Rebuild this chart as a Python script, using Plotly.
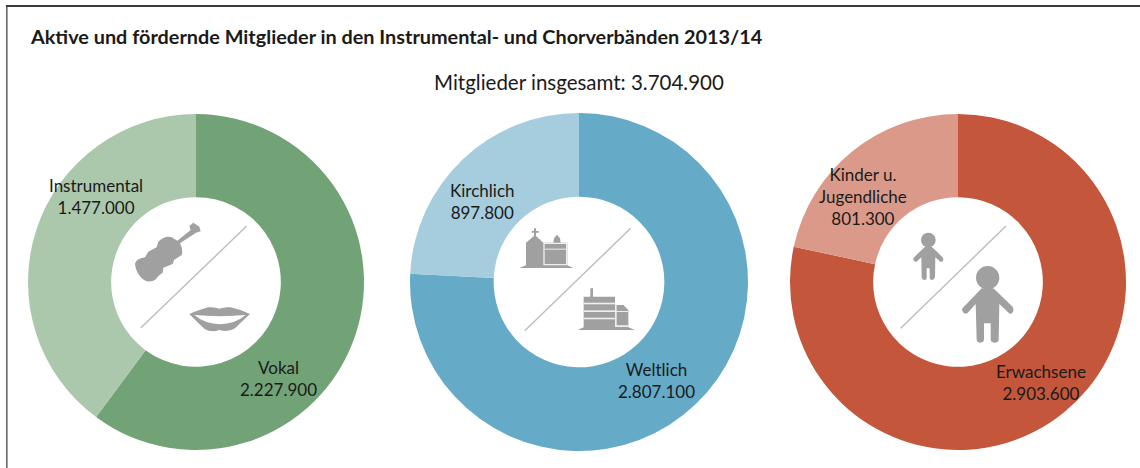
import re
import plotly.graph_objects as go

W, H = 1140, 468
title_text = "Aktive und fördernde Mitglieder in den Instrumental- und Chorverbänden 2013/14"
subtitle_text = "Mitglieder insgesamt: 3.704.900"

labels_a = ["Vokal", "Instrumental"]
values_a = [2227900, 1477000]
labels_b = ["Weltlich", "Kirchlich"]
values_b = [2807100, 897800]
labels_c = ["Erwachsene", "Kinder u.<br>Jugendliche"]
values_c = [2903600, 801300]

colors_a = ["#72A376", "#ABC8AC"]
colors_b = ["#65ABC8", "#A5CDDE"]
colors_c = ["#C3563B", "#DB9A89"]

FONT = "Lato, sans-serif"
TXT = "#1a1a1a"
ICON = "#A0A0A0"


def fmt(v):
    return f"{v:,}".replace(",", ".")


def px_domain(cx, cy, r):
    return dict(x=[(cx - r) / W, (cx + r) / W], y=[1 - (cy + r) / H, 1 - (cy - r) / H])


fig = go.Figure()
for labs, vals, cols, (cx, cy, r) in [
    (labels_a, values_a, colors_a, (196, 282, 168)),
    (labels_b, values_b, colors_b, (579, 282, 169)),
    (labels_c, values_c, colors_c, (958, 282, 168)),
]:
    fig.add_trace(go.Pie(
        labels=labs, values=vals, hole=0.505, sort=False, direction="clockwise", rotation=0,
        marker=dict(colors=cols, line=dict(width=0)), textinfo="none", showlegend=False,
        domain=px_domain(cx, cy, r), hoverinfo="label+value",
    ))

shapes = []


def zpath(d, ox, oy, fill=ICON):
    """Icon outline in zoom-crop units (3x) placed at crop origin (ox, oy), converted to paper."""
    def rep(m):
        x = ox + float(m.group(1)) / 3
        y = oy + float(m.group(2)) / 3
        return f"{x / W:.5f},{1 - y / H:.5f}"
    p = re.sub(r"(-?[\d.]+),(-?[\d.]+)", rep, d)
    shapes.append(dict(type="path", path=p, xref="paper", yref="paper", fillcolor=fill,
                       line=dict(width=0), layer="above"))


def circle(cx, cy, r, ox, oy, fill=ICON):
    shapes.append(dict(type="circle", xref="paper", yref="paper", fillcolor=fill, line=dict(width=0),
                       x0=(ox + (cx - r) / 3) / W, x1=(ox + (cx + r) / 3) / W,
                       y0=1 - (oy + (cy + r) / 3) / H, y1=1 - (oy + (cy - r) / 3) / H))


def seg(x0, y0, x1, y1, color="#BDBDBD", w=1.4):
    shapes.append(dict(type="line", xref="paper", yref="paper", x0=x0 / W, x1=x1 / W,
                       y0=1 - y0 / H, y1=1 - y1 / H, line=dict(color=color, width=w)))


# diagonal dividers
seg(246.7, 226, 140.7, 328)
seg(630.7, 228.3, 524.7, 330.7)
seg(1006, 226, 900.7, 328.3)

# violin
o = (100, 200)
zpath("M 232,122 L 272,90 L 268,78 L 280,68 L 298,80 L 302,94 L 288,98 L 240,130 Q 250,150 245,165 "
      "L 222,180 L 218,192 L 190,203 L 188,218 Q 172,228 168,238 Q 150,250 132,240 Q 108,222 105,192 "
      "Q 108,176 135,172 L 145,155 L 170,142 L 175,125 Q 195,106 215,112 Z", *o)
# lips
zpath("M 268,342 Q 300,328 325,322 Q 345,320 358,326 Q 372,320 392,322 Q 420,328 450,342 "
      "Q 425,365 405,385 Q 385,398 358,390 Q 335,398 315,388 Q 295,370 268,342 Z", *o)
zpath("M 283,345 Q 360,352 437,345 Q 405,372 360,373 Q 315,372 283,345 Z", *o, fill="#FFFFFF")

# church
o = (490, 200)
zpath("M 88,204 L 108,196 L 108,128 L 132,108 L 132,98 L 125,98 L 125,93 L 132,93 L 132,85 L 138,85 L 138,93 "
      "L 146,93 L 146,98 L 138,98 L 138,108 L 160,128 L 190,128 L 192,115 L 201,104 L 210,115 L 212,128 L 232,128 "
      "L 232,196 L 250,204 Z", *o)
zpath("M 160,128 L 232,128 L 232,196 L 160,196 Z M 164,132 L 164,192 L 228,192 L 228,132 Z", *o, fill="#EEEEEE")
zpath("M 164,146 L 228,146 L 228,149 L 164,149 Z", *o, fill="#EEEEEE")
# secular building
zpath("M 263,390 L 281,382 L 281,290 L 301,290 L 301,265 L 309,265 L 309,290 L 375,290 L 375,315 L 400,315 L 415,330 "
      "L 415,382 L 435,390 Z", *o)
for y0, y1 in [(308, 313), (331, 336), (353, 358)]:
    zpath(f"M 281,{y0} L 375,{y0} L 375,{y1} L 281,{y1} Z", *o, fill="#EEEEEE")
zpath("M 375,312 L 380,312 L 380,376 L 416,376 L 416,381 L 375,381 Z", *o, fill="#EEEEEE")
zpath("M 378,333 L 415,333 L 415,336 L 378,336 Z", *o, fill="#EEEEEE")

# child and adult
o = (870, 200)
circle(175, 120, 22, *o)
zpath("M 165,140 L 185,140 L 219,173 Q 223,184 212,186 L 196,172 L 195,232 Q 192,240 186,240 Q 179,240 179,232 "
      "L 179,205 L 170,205 L 170,232 Q 170,240 163,240 Q 156,240 155,232 L 154,172 L 139,186 Q 127,184 131,173 Z", *o)
circle(353, 233, 35, *o)
zpath("M 335,265 L 370,265 L 428,320 Q 436,336 420,342 L 388,312 L 386,420 Q 384,428 374,428 Q 362,428 362,418 "
      "L 362,370 L 342,370 L 342,418 Q 342,428 331,428 Q 322,428 320,420 L 317,312 L 292,340 Q 278,344 276,326 Z", *o)

# frame
seg(6.8, 468, 6.8, 6, color="#6e6e6e", w=1.7)
seg(6, 6, 1140, 6, color="#3a3a3a", w=1.8)

annotations = []


def txt(x, y, text, size=17, anchor="center"):
    annotations.append(dict(x=x / W, y=1 - y / H, xref="paper", yref="paper", text=text, showarrow=False,
                            xanchor=anchor, yanchor="middle", align="center",
                            font=dict(family=FONT, size=size, color=TXT)))


txt(28, 36, f"<b>{title_text}</b>", size=19.85, anchor="left")
txt(579, 82, subtitle_text, size=20.5)
txt(96, 196, f"{labels_a[1]}<br>{fmt(values_a[1])}")
txt(278, 378, f"{labels_a[0]}<br>{fmt(values_a[0])}")
txt(482, 201, f"{labels_b[1]}<br>{fmt(values_b[1])}")
txt(656, 380, f"{labels_b[0]}<br>{fmt(values_b[0])}")
txt(863, 196, f"{labels_c[1]}<br>{fmt(values_c[1])}")
txt(1041, 382, f"{labels_c[0]}<br>{fmt(values_c[0])}")

fig.update_layout(
    width=W, height=H, margin=dict(l=0, r=0, t=0, b=0), paper_bgcolor="white", plot_bgcolor="white",
    shapes=shapes, annotations=annotations, font=dict(family=FONT),
)
fig.write_html("out.html", config=dict(displayModeBar=False),
               post_script="document.body.style.margin='0';document.body.style.overflow='hidden';")
